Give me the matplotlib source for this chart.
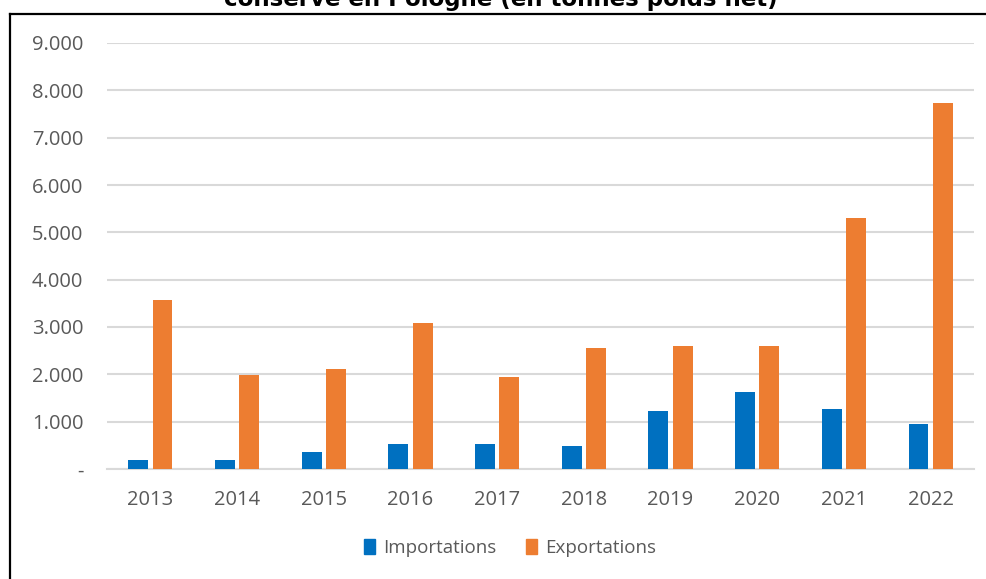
import matplotlib

matplotlib.use("Agg")

import matplotlib.pyplot as plt
import numpy as np
from matplotlib.lines import Line2D
from matplotlib.patches import Patch

years = ["2013", "2014", "2015", "2016", "2017", "2018", "2019", "2020", "2021", "2022"]
importations = [200, 200, 360, 520, 520, 480, 1230, 1630, 1270, 945]
exportations = [3570, 1990, 2110, 3090, 1940, 2565, 2605, 2605, 5300, 7730]
y_ticks = [0, 1000, 2000, 3000, 4000, 5000, 6000, 7000, 8000, 9000]
y_labels = ["-", "1.000", "2.000", "3.000", "4.000", "5.000", "6.000", "7.000", "8.000", "9.000"]

title = "conserve en Pologne (en tonnes poids net)"
blue = "#0070C0"
orange = "#ED7D31"
grey_text = "#595959"

W, H = 987, 579
fig = plt.figure(figsize=(W / 100, H / 100), dpi=100)
ax = fig.add_axes([107 / W, (H - 469) / H, (974 - 107) / W, (469 - 43) / H])

x = np.arange(len(years))
bw = 0.23
ax.bar(x - 0.14, importations, width=bw, color=blue, zorder=3)
ax.bar(x + 0.14, exportations, width=bw, color=orange, zorder=3)

ax.set_xlim(-0.5, len(years) - 0.5)
ax.set_ylim(0, 9000)
ax.set_yticks(y_ticks)
ax.set_yticklabels(y_labels)
ax.set_xticks(x)
ax.set_xticklabels(years)
ax.grid(axis="y", color="#d9d9d9", linewidth=1.5, zorder=0)
ax.tick_params(length=0, labelsize=14.5, labelcolor=grey_text)
ax.tick_params(axis="y", pad=17)
ax.tick_params(axis="x", pad=15)
for lab in ax.get_xticklabels() + ax.get_yticklabels():
    lab.set_family("Open Sans")
for side in ["left", "right", "top"]:
    ax.spines[side].set_visible(False)
ax.spines["bottom"].set_color("#d9d9d9")
ax.spines["bottom"].set_linewidth(1.5)

handles = [Patch(color=blue, label="Importations"), Patch(color=orange, label="Exportations")]
fig.legend(handles=handles, loc="center", bbox_to_anchor=(510 / W, (H - 548) / H),
           ncol=2, frameon=False, handlelength=0.6, handleheight=0.8,
           handletextpad=0.4, columnspacing=1.6,
           prop={"family": "Open Sans", "size": 13.5}, labelcolor=grey_text)

# chart frame (top and left edges visible)
fig.add_artist(Line2D([10 / W, 1], [(H - 13.5) / H] * 2, color="black", linewidth=1.6))
fig.add_artist(Line2D([10 / W] * 2, [0, (H - 13.5) / H], color="black", linewidth=1.6))

fig.text(501 / W, 1 - 6 / H, title, ha="center", va="baseline",
         fontsize=16.5, fontweight="bold", family="DejaVu Sans")

fig.savefig("out.png", dpi=100)
